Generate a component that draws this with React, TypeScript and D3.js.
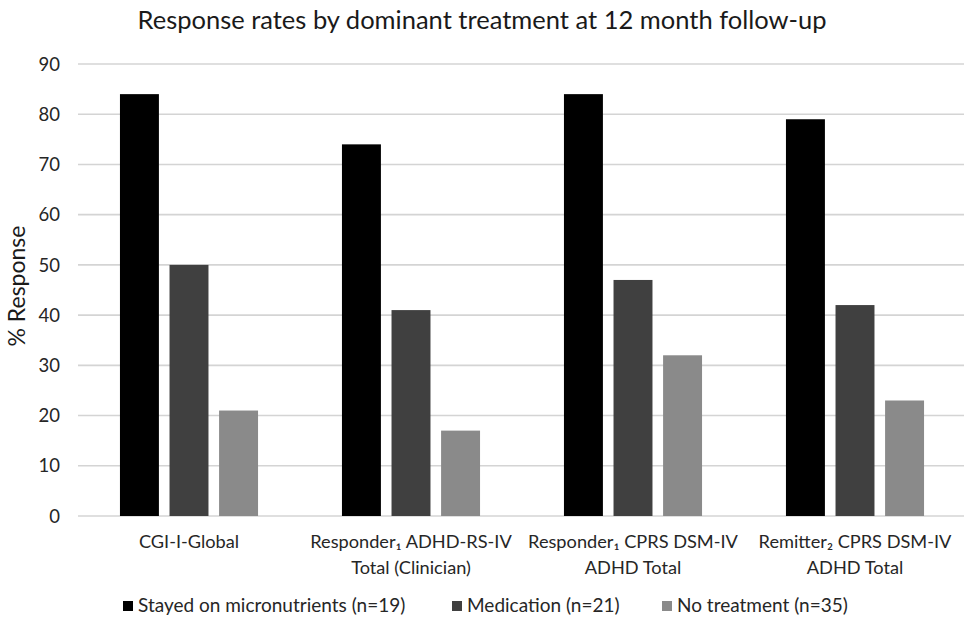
import React from "react";
import * as d3 from "d3";

const categories: string[][] = [
  ["CGI-I-Global"],
  ["Responder\u2081 ADHD-RS-IV", "Total (Clinician)"],
  ["Responder\u2081 CPRS DSM-IV", "ADHD Total"],
  ["Remitter\u2082  CPRS DSM-IV", "ADHD Total"],
];
const seriesNames = [
  "Stayed on micronutrients (n=19)",
  "Medication (n=21)",
  "No treatment (n=35)",
];
const micronutrients = [84, 74, 84, 79];
const medication = [50, 41, 47, 42];
const noTreatment = [21, 17, 32, 23];
const yTicks = [0, 10, 20, 30, 40, 50, 60, 70, 80, 90];
const colors = ["#000000", "#404040", "#8a8a8a"];

const W = 964;
const H = 624;
const FONT = "Lato, 'Open Sans', sans-serif";

export default function App() {
  const series = [micronutrients, medication, noTreatment];
  const x0 = d3
    .scaleBand<number>()
    .domain(d3.range(categories.length))
    .range([78, 966])
    .paddingInner(0.378)
    .paddingOuter(0.189);
  const x1 = d3
    .scaleBand<number>()
    .domain(d3.range(series.length))
    .range([0, x0.bandwidth()])
    .paddingInner(0.214);
  const y = d3.scaleLinear().domain([0, 90]).range([516, 64]);

  const legendX = [123, 452, 662];

  return (
    <svg
      width={W}
      height={H}
      style={{ position: "absolute", left: 0, top: 0, background: "#fff" }}
      fontFamily={FONT}
    >
      <text x={482} y={29} textAnchor="middle" fontSize={25.5} fill="#1a1a1a">
        Response rates by dominant treatment at 12 month follow-up
      </text>
      {yTicks.map((t) => (
        <g key={t}>
          <line x1={78} x2={964} y1={y(t)} y2={y(t)} stroke="#d4d4d4" strokeWidth={1.6} />
          <text x={60} y={y(t)} dy="0.36em" textAnchor="end" fontSize={18.5} fill="#262626">
            {t}
          </text>
        </g>
      ))}
      <text
        transform={`translate(25,286) rotate(-90)`}
        textAnchor="middle"
        fontSize={23}
        fill="#1a1a1a"
      >
        % Response
      </text>
      {categories.map((c, i) => (
        <g key={i} transform={`translate(${x0(i)},0)`}>
          {series.map((s, j) => (
            <rect
              key={j}
              x={x1(j)}
              y={y(s[i])}
              width={x1.bandwidth()}
              height={y(0) - y(s[i])}
              fill={colors[j]}
            />
          ))}
        </g>
      ))}
      {categories.map((c, i) => (
        <text
          key={i}
          x={(x0(i) as number) + x0.bandwidth() / 2}
          y={548}
          textAnchor="middle"
          fontSize={18.2}
          fill="#262626"
        >
          {c.map((line, k) => (
            <tspan key={k} x={(x0(i) as number) + x0.bandwidth() / 2} dy={k === 0 ? 0 : 26}>
              {line}
            </tspan>
          ))}
        </text>
      ))}
      {seriesNames.map((n, j) => (
        <g key={j}>
          <rect x={legendX[j]} y={601} width={10} height={10} fill={colors[j]} />
          <text x={legendX[j] + 15} y={612} fontSize={19} fill="#262626">
            {n}
          </text>
        </g>
      ))}
    </svg>
  );
}
